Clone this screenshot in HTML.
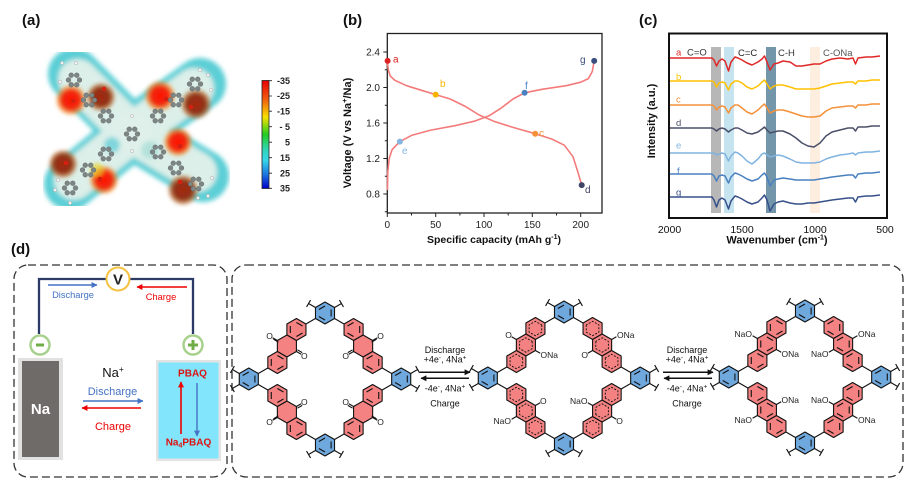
<!DOCTYPE html>
<html><head><meta charset="utf-8"><style>
html,body{margin:0;padding:0;background:#fff;}
svg{display:block;}
</style></head><body>
<svg width="906" height="480" viewBox="0 0 906 480" xmlns="http://www.w3.org/2000/svg" xmlns:xlink="http://www.w3.org/1999/xlink" font-family="'Liberation Sans', Arial, sans-serif">
<defs>
  <filter id="bl" x="-20%" y="-20%" width="140%" height="140%"><feGaussianBlur stdDeviation="2.5"/></filter>
  <filter id="bl2" x="-50%" y="-50%" width="200%" height="200%"><feGaussianBlur stdDeviation="1.8"/></filter>
  <linearGradient id="cb" x1="0" y1="0" x2="0" y2="1">
    <stop offset="0" stop-color="#e80000"/>
    <stop offset="0.17" stop-color="#f25a10"/>
    <stop offset="0.34" stop-color="#f7e000"/>
    <stop offset="0.5" stop-color="#22cc22"/>
    <stop offset="0.64" stop-color="#30d6b8"/>
    <stop offset="0.74" stop-color="#36d6ea"/>
    <stop offset="0.88" stop-color="#1a6ee0"/>
    <stop offset="1" stop-color="#0000c8"/>
  </linearGradient>
  <radialGradient id="rs"><stop offset="0" stop-color="#ff1400"/><stop offset="0.55" stop-color="#f02810"/><stop offset="0.8" stop-color="#f07a20" stop-opacity="0.7"/><stop offset="1" stop-color="#f0a030" stop-opacity="0"/></radialGradient>
  <radialGradient id="ds"><stop offset="0" stop-color="#a82a10"/><stop offset="0.55" stop-color="#8e3014"/><stop offset="0.8" stop-color="#b06028" stop-opacity="0.7"/><stop offset="1" stop-color="#c08040" stop-opacity="0"/></radialGradient>
  <g id="ar" fill="#7d8585" stroke="#565c5c" stroke-width="0.4">
    <circle cx="5.5" cy="0" r="2.4"/><circle cx="2.75" cy="4.76" r="2.4"/><circle cx="-2.75" cy="4.76" r="2.4"/>
    <circle cx="-5.5" cy="0" r="2.4"/><circle cx="-2.75" cy="-4.76" r="2.4"/><circle cx="2.75" cy="-4.76" r="2.4"/>
  </g>
  <marker id="mb" viewBox="0 0 10 10" refX="9" refY="5" markerWidth="6" markerHeight="6" orient="auto" markerUnits="userSpaceOnUse"><path d="M0,0L10,5L0,10Z" fill="#4472c4"/></marker>
  <marker id="mr" viewBox="0 0 10 10" refX="9" refY="5" markerWidth="6" markerHeight="6" orient="auto" markerUnits="userSpaceOnUse"><path d="M0,0L10,5L0,10Z" fill="#ee0000"/></marker>
  <marker id="mk" viewBox="0 0 10 10" refX="9" refY="5" markerWidth="7" markerHeight="6" orient="auto" markerUnits="userSpaceOnUse"><path d="M0,0L10,5L0,10Z" fill="#111"/></marker>

  <path id="hx" d="M9.53,-5.5L9.53,5.5L0,11L-9.53,5.5L-9.53,-5.5L0,-11Z"/>
  <path id="kA" d="M6.1,3.5L0,7M-6.1,3.5L-6.1,-3.5M0,-7L6.1,-3.5" fill="none"/>
  <path id="kB" d="M0,7L-6.1,3.5M-6.1,-3.5L0,-7M6.1,-3.5L6.1,3.5" fill="none"/>
  <path id="dh" d="M6.3,-3.6L6.3,3.6L0,7.2L-6.3,3.6L-6.3,-3.6L0,-7.2Z" fill="none" stroke-dasharray="2 1.5" stroke-width="0.9"/>
  <g id="bz"><use xlink:href="#hx" href="#hx" fill="#6fa8dc"/><use xlink:href="#kB" href="#kB"/></g>
  <path id="sT" fill="none" d="M-9.53,-5.5L-16.45,-9.5M-14.45,-12.96L-18.45,-6.04M9.53,-5.5L16.45,-9.5M18.45,-6.04L14.45,-12.96"/>
  <path id="sL" fill="none" d="M-9.53,5.5L-16.45,9.5M-18.45,6.04L-14.45,12.96M-9.53,-5.5L-16.45,-9.5M-14.45,-12.96L-18.45,-6.04"/>
  <g id="ub">
    <use xlink:href="#hx" href="#hx" x="-28.58" y="-49.5" fill="#f58282"/>
    <use xlink:href="#hx" href="#hx" x="-38.11" y="-33" fill="#f58282"/>
    <use xlink:href="#hx" href="#hx" x="-47.63" y="-16.5" fill="#f58282"/>
    <path fill="none" d="M-9.53,-60.5L-19.05,-55M-57.16,-11L-66.67,-5.5M-47.64,-38.5L-52.4,-41.25M-28.58,-27.5L-23.8,-24.75"/>
  </g>
  <g id="u1">
    <use xlink:href="#ub" href="#ub"/>
    <use xlink:href="#kA" href="#kA" x="-28.58" y="-49.5"/>
    <use xlink:href="#kA" href="#kA" x="-47.63" y="-16.5"/>
    <path fill="none" d="M-46.6,-36.9L-51.6,-39.8M-27.6,-29.2L-22.8,-26.4"/>
  </g>
  <g id="u2">
    <use xlink:href="#ub" href="#ub"/>
    <use xlink:href="#dh" href="#dh" x="-28.58" y="-49.5"/>
    <use xlink:href="#dh" href="#dh" x="-38.11" y="-33"/>
    <use xlink:href="#dh" href="#dh" x="-47.63" y="-16.5"/>
  </g>
  <g id="u3">
    <use xlink:href="#ub" href="#ub"/>
    <use xlink:href="#kA" href="#kA" x="-28.58" y="-49.5"/>
    <use xlink:href="#kA" href="#kA" x="-38.11" y="-33"/>
    <use xlink:href="#kA" href="#kA" x="-47.63" y="-16.5"/>
  </g>
  <g id="cage">
    <use xlink:href="#bz" href="#bz" x="0" y="-66"/>
    <use xlink:href="#bz" href="#bz" x="0" y="66"/>
    <use xlink:href="#bz" href="#bz" x="-76.2" y="0"/>
    <use xlink:href="#bz" href="#bz" x="76.2" y="0"/>
    <use xlink:href="#sT" href="#sT" x="0" y="-66"/>
    <g transform="translate(0,66) scale(1,-1)"><use xlink:href="#sT" href="#sT"/></g>
    <use xlink:href="#sL" href="#sL" x="-76.2" y="0"/>
    <g transform="translate(76.2,0) scale(-1,1)"><use xlink:href="#sL" href="#sL"/></g>
  </g>
</defs>

<rect width="906" height="480" fill="#fff"/>

<!-- ================= (a) ================= -->
<text x="22" y="25" font-size="15" font-weight="bold" fill="#111">(a)</text>
<g filter="url(#bl)">
  <g stroke="#5ccfd6" stroke-width="52" stroke-linecap="round" fill="none">
    <path d="M132,133L74,74M132,133L200,84M132,133L70,184M132,133L203,176"/>
  </g>
  <g stroke="#dcefe9" stroke-width="40" stroke-linecap="round" fill="none">
    <path d="M132,133L78,79M132,133L194,88M132,133L74,180M132,133L197,172"/>
  </g>
  <circle cx="132" cy="133" r="22" fill="#dff0ea"/>
  <circle cx="112" cy="145" r="8" fill="#7fd6dc"/>
  <circle cx="150" cy="150" r="9" fill="#b4e2da"/>
</g>
<g filter="url(#bl2)">
  <circle cx="71" cy="100" r="16" fill="url(#rs)"/>
  <circle cx="101" cy="97" r="15" fill="url(#ds)"/>
  <circle cx="160" cy="96" r="16" fill="url(#rs)"/>
  <circle cx="196" cy="104" r="16" fill="url(#ds)"/>
  <circle cx="178" cy="142" r="15" fill="url(#rs)"/>
  <circle cx="63" cy="164" r="15" fill="url(#ds)"/>
  <circle cx="104" cy="180" r="15" fill="url(#rs)"/>
  <circle cx="97" cy="170" r="7" fill="#e8d020" opacity="0.6"/>
  <circle cx="183" cy="190" r="16" fill="url(#ds)"/>
</g>
<g>
  <use xlink:href="#ar" href="#ar" x="132" y="134"/>
  <use xlink:href="#ar" href="#ar" x="106" y="116"/>
  <use xlink:href="#ar" href="#ar" x="89" y="100"/>
  <use xlink:href="#ar" href="#ar" x="74" y="80"/>
  <use xlink:href="#ar" href="#ar" x="158" y="116"/>
  <use xlink:href="#ar" href="#ar" x="176" y="100"/>
  <use xlink:href="#ar" href="#ar" x="195" y="84"/>
  <use xlink:href="#ar" href="#ar" x="106" y="154"/>
  <use xlink:href="#ar" href="#ar" x="88" y="170"/>
  <use xlink:href="#ar" href="#ar" x="70" y="188"/>
  <use xlink:href="#ar" href="#ar" x="158" y="152"/>
  <use xlink:href="#ar" href="#ar" x="176" y="168"/>
  <use xlink:href="#ar" href="#ar" x="196" y="184"/>
  <g fill="#f2f2f2" stroke="#999" stroke-width="0.4">
    <circle cx="62" cy="63" r="1.7"/><circle cx="76" cy="63" r="1.7"/><circle cx="60" cy="82" r="1.7"/>
    <circle cx="208" cy="75" r="1.7"/><circle cx="200" cy="70" r="1.7"/><circle cx="211" cy="90" r="1.7"/>
    <circle cx="55" cy="190" r="1.7"/><circle cx="70" cy="203" r="1.7"/><circle cx="58" cy="180" r="1.7"/>
    <circle cx="208" cy="196" r="1.7"/><circle cx="212" cy="178" r="1.7"/><circle cx="198" cy="198" r="1.7"/>
    <circle cx="132" cy="116" r="1.7"/><circle cx="132" cy="151" r="1.7"/>
  </g>
  <g fill="#d42010"><circle cx="73" cy="101" r="2.3"/><circle cx="104" cy="89" r="2.3"/><circle cx="191" cy="107" r="2.3"/><circle cx="166" cy="99" r="2.3"/><circle cx="66" cy="163" r="2.3"/><circle cx="100" cy="179" r="2.3"/><circle cx="180" cy="146" r="2.3"/><circle cx="180" cy="182" r="2.3"/></g>
</g>
<!-- colorbar -->
<rect x="262" y="80.5" width="7" height="108" fill="url(#cb)" stroke="#222" stroke-width="0.8"/>
<g stroke="#222" stroke-width="0.8">
  <path d="M269,80.7h3M269,96h3M269,111.2h3M269,126.7h3M269,142.2h3M269,157.7h3M269,173.2h3M269,188.3h3"/>
</g>
<g font-size="9" fill="#222" text-anchor="end" font-weight="bold">
  <text x="290" y="84">-35</text><text x="290" y="99">-25</text><text x="290" y="114.5">-15</text>
  <text x="290" y="130">- 5</text><text x="290" y="145.5">5</text><text x="290" y="161">15</text>
  <text x="290" y="176.5">25</text><text x="290" y="191.5">35</text>
</g>

<!-- ================= (b) ================= -->
<text x="343" y="25" font-size="15" font-weight="bold" fill="#111">(b)</text>
<rect x="387.3" y="33.5" width="214.7" height="179.5" fill="none" stroke="#222" stroke-width="1.3"/>
<g stroke="#222" stroke-width="1">
  <path d="M387.3,52h-4M387.3,87.5h-4M387.3,123h-4M387.3,158.5h-4M387.3,194h-4M387.3,69.8h-2.5M387.3,105.3h-2.5M387.3,140.8h-2.5M387.3,176.3h-2.5M387.3,211.8h-2.5"/>
  <path d="M387.3,213v4M435.7,213v4M484,213v4M532.3,213v4M580.7,213v4M411.5,213v2.5M459.9,213v2.5M508.2,213v2.5M556.5,213v2.5"/>
</g>
<g font-size="10" fill="#222" text-anchor="end">
  <text x="380" y="55.5">2.4</text><text x="380" y="91">2.0</text><text x="380" y="126.5">1.6</text>
  <text x="380" y="162">1.2</text><text x="380" y="197.5">0.8</text>
</g>
<g font-size="10" fill="#222" text-anchor="middle">
  <text x="387.3" y="228">0</text><text x="435.7" y="228">50</text><text x="484" y="228">100</text>
  <text x="532.3" y="228">150</text><text x="580.7" y="228">200</text>
</g>
<text x="494" y="243" font-size="10.5" font-weight="bold" fill="#111" text-anchor="middle">Specific capacity (mAh g<tspan font-size="7" dy="-4">-1</tspan><tspan dy="4">)</tspan></text>
<text transform="translate(351,133) rotate(-90)" font-size="11" font-weight="bold" fill="#111" text-anchor="middle">Voltage (V vs Na<tspan font-size="7.5" dy="-4">+</tspan><tspan dy="4">/Na)</tspan></text>
<g fill="none" stroke="#f47b7b" stroke-width="1.6" stroke-linejoin="round">
  <polyline points="387.3,60.9 388.3,69.8 390.2,76 395,80.4 406.6,85.7 421.1,90.2 435.7,94.6 450.2,99 464.7,106.1 479.2,115 493.7,121.2 513,127.4 535.2,133.7 551.7,139 564.3,145.2 573,156.7 577.8,171.8 581.7,185.1"/>
  <polyline points="387.4,190 387.5,186.9 387.8,171.8 389.2,158.5 392.1,149.6 399.9,141.6 411.5,135.4 430.8,130.1 455,125.7 474.3,121.2 488.8,115.9 501.4,107.9 513,99 524.6,92.8 542,89.3 566.2,85.7 580.7,82.2 588.4,78.6 592.3,71.5 594.2,60.9"/>
</g>
<circle cx="387.6" cy="60.9" r="3" fill="#dd2222"/>
<circle cx="435.7" cy="94.6" r="3" fill="#f6b400"/>
<circle cx="535.2" cy="133.7" r="3" fill="#f39038"/>
<circle cx="581.7" cy="185.1" r="3" fill="#3e4566"/>
<circle cx="399.9" cy="141.6" r="3" fill="#84b6e0"/>
<circle cx="524.6" cy="92.8" r="3" fill="#4b82c2"/>
<circle cx="594.2" cy="60.9" r="3" fill="#3b4f7e"/>
<g font-size="10">
  <text x="393" y="62.5" fill="#dd2222">a</text>
  <text x="440" y="87" fill="#f6b400">b</text>
  <text x="539" y="136.5" fill="#f39038">c</text>
  <text x="585" y="193" fill="#3e4566">d</text>
  <text x="402" y="154" fill="#84b6e0">e</text>
  <text x="525" y="89" fill="#4b82c2">f</text>
  <text x="580" y="63" fill="#3b4f7e">g</text>
</g>

<!-- ================= (c) ================= -->
<text x="639" y="25" font-size="15" font-weight="bold" fill="#111">(c)</text>
<rect x="711" y="47" width="10" height="166" fill="#b7b7b7"/>
<rect x="724" y="47" width="10" height="166" fill="#c6e4ef"/>
<rect x="766" y="47" width="10" height="166" fill="#7496ab"/>
<rect x="810" y="47" width="10" height="166" fill="#fdeedf"/>
<g fill="none" stroke-width="1.5" stroke-linejoin="round">
  <polyline stroke="#e02828" points="669,58 712,58 714,60 716.5,66 719,61 722,59 725,61 728.5,71 731,62 735,57 738,58 742,60 747,63 752,65 758,62 762,59 764.5,56 767,62 770,70 774,64 778,63 783,61 790,62 796,66 802,66 808,65 814,64 820,64 826,61 832,59 840,58 848,59 853,58 855.5,64 858,58 866,57 872,57 880,56"/>
  <polyline stroke="#ffc000" points="669,81 712,81 714,82 716.5,87 719,83 722,82 725,83 728.5,90 731,84 735,81 738,81 742,83 747,87 752,89 758,86 762,82 764.5,80 767,84 770,89 774,86 778,85 783,85 790,87 796,89 802,89 808,89 814,89 820,88 826,86 832,84 840,83 848,82 853,82 855.5,84 858,81 866,81 872,80 880,80"/>
  <polyline stroke="#f4913a" points="669,105 712,105 714,106 716.5,110 719,107 722,106 725,107 728.5,113 731,108 735,105 738,105 742,108 747,112 752,114 758,110 762,106 764.5,104 767,108 770,113 774,111 778,110 783,110 790,112 796,114 802,116 808,117 814,117 820,116 826,111 832,108 840,107 848,106 853,106 855.5,108 858,105 866,105 872,104 880,104"/>
  <polyline stroke="#4a5068" points="669,128 712,128 714,129 716.5,131 719,129 722,128 725,129 728.5,132 731,130 735,128 738,128 742,130 747,133 752,134 758,132 762,129 764.5,127 767,130 770,133 774,132 778,131 783,131 790,134 796,138 802,143 808,146 814,147 820,143 826,136 832,132 840,130 848,128 853,128 855.5,131 858,127 866,127 872,126 880,126"/>
  <polyline stroke="#80b4e0" points="669,153 712,153 714,153 716.5,155 719,154 722,153 725,154 728.5,161 731,156 735,152 738,153 742,156 747,161 752,164 758,159 762,154 764.5,153 767,155 770,157 774,156 778,155 783,156 790,159 796,162 802,163 808,163 814,163 820,162 826,159 832,157 840,155 848,154 853,153 855.5,155 858,153 866,152 872,152 880,151"/>
  <polyline stroke="#4a80c0" points="669,174 712,174 714,176 716.5,181 719,176 722,175 725,176 728.5,183 731,177 735,173 738,174 742,176 747,179 752,181 758,179 762,175 764.5,173 767,177 770,186 774,180 778,179 783,178 790,179 796,180 802,180 808,180 814,180 820,179 826,178 832,177 840,176 848,175 853,175 855.5,178 858,174 866,173 872,173 880,172"/>
  <polyline stroke="#37508a" points="669,197 712,197 714,200 716.5,207 719,200 722,198 725,200 728.5,209 731,201 735,196 738,197 742,199 747,202 752,204 758,202 762,198 764.5,195 767,200 770,211 774,204 778,202 783,201 790,203 796,204 802,204 808,203 814,203 820,202 826,201 832,200 840,199 848,198 853,198 855.5,202 858,197 866,196 872,196 880,195"/>
</g>
<rect x="669" y="33.5" width="218" height="184.5" fill="none" stroke="#111" stroke-width="2"/>
<g font-size="9.5">
  <text x="676" y="55.5" fill="#e02828">a</text>
  <text x="687" y="55.5" fill="#333">C=O</text>
  <text x="738" y="56" fill="#222">C=C</text>
  <text x="778" y="56" fill="#333">C-H</text>
  <text x="823" y="56" fill="#555">C-ONa</text>
  <text x="676" y="80" fill="#ffc000">b</text>
  <text x="676" y="102.5" fill="#f4913a">c</text>
  <text x="676" y="126" fill="#4a5068">d</text>
  <text x="676" y="148.5" fill="#80b4e0">e</text>
  <text x="677" y="174" fill="#4a80c0">f</text>
  <text x="676" y="195.5" fill="#37508a">g</text>
</g>
<g font-size="10.5" fill="#111" text-anchor="middle">
  <text x="669.5" y="233">2000</text><text x="742" y="233">1500</text><text x="815" y="233">1000</text><text x="885" y="233">500</text>
</g>
<text x="777" y="243.5" font-size="11" font-weight="bold" fill="#111" text-anchor="middle">Wavenumber (cm<tspan font-size="7" dy="-4">-1</tspan><tspan dy="4">)</tspan></text>
<text transform="translate(655,121) rotate(-90)" font-size="11" font-weight="bold" fill="#111" text-anchor="middle">Intensity (a.u.)</text>

<!-- ================= (d) ================= -->
<text x="11" y="254" font-size="15" font-weight="bold" fill="#111">(d)</text>
<rect x="14" y="265" width="213" height="212" rx="14" fill="none" stroke="#333" stroke-width="1.3" stroke-dasharray="8 4"/>
<rect x="232" y="265" width="671" height="212" rx="14" fill="none" stroke="#333" stroke-width="1.3" stroke-dasharray="8 4"/>

<!-- circuit -->
<polyline points="39,334 39,279 106.5,279" fill="none" stroke="#2b3a67" stroke-width="2.3"/>
<polyline points="129.5,279 193,279 193,334" fill="none" stroke="#2b3a67" stroke-width="2.3"/>
<circle cx="118" cy="279" r="11.5" fill="#fff" stroke="#f5c242" stroke-width="2"/>
<text x="118" y="284.5" font-size="15" font-weight="bold" fill="#222" text-anchor="middle">V</text>
<line x1="48" y1="285" x2="97" y2="285" stroke="#4472c4" stroke-width="1.5" marker-end="url(#mb)"/>
<text x="73" y="298" font-size="9.3" fill="#4472c4" text-anchor="middle">Discharge</text>
<line x1="187" y1="287" x2="137" y2="287" stroke="#ee0000" stroke-width="1.5" marker-end="url(#mr)"/>
<text x="161" y="300" font-size="9.3" fill="#ee0000" text-anchor="middle">Charge</text>
<circle cx="40" cy="345" r="9.5" fill="#fff" stroke="#a9d18e" stroke-width="2.5"/>
<rect x="36" y="343.5" width="8" height="3" fill="#70ad47"/>
<circle cx="193" cy="345" r="9.5" fill="#fff" stroke="#a9d18e" stroke-width="2.5"/>
<rect x="188" y="343.5" width="10" height="3" fill="#70ad47"/>
<rect x="191.5" y="340" width="3" height="10" fill="#70ad47"/>
<!-- electrodes -->
<rect x="18" y="358" width="45" height="102" fill="#e1e1e1"/>
<rect x="22" y="361" width="37" height="96" fill="#6f6b69"/>
<text x="40.5" y="414" font-size="15" font-weight="bold" fill="#fff" text-anchor="middle">Na</text>
<rect x="156" y="360" width="65" height="101" fill="#e3e3e3"/>
<rect x="158.5" y="362.5" width="60" height="96" fill="#82e5fb"/>
<text x="192.5" y="376.5" font-size="10" font-weight="bold" fill="#dd1111" text-anchor="middle">PBAQ</text>
<text x="188.5" y="445.5" font-size="10" font-weight="bold" fill="#dd1111" text-anchor="middle">Na<tspan font-size="7" dy="2">4</tspan><tspan dy="-2">PBAQ</tspan></text>
<line x1="181" y1="434" x2="181" y2="382" stroke="#ee0000" stroke-width="1.6" marker-end="url(#mr)"/>
<line x1="197" y1="383" x2="197" y2="436" stroke="#4472c4" stroke-width="1.4" marker-end="url(#mb)"/>
<text x="113" y="377" font-size="13" fill="#111" text-anchor="middle">Na<tspan font-size="8.5" dy="-5">+</tspan></text>
<text x="112.5" y="395" font-size="11" fill="#4472c4" text-anchor="middle">Discharge</text>
<line x1="83" y1="401" x2="143" y2="401" stroke="#4472c4" stroke-width="1.5" marker-end="url(#mb)"/>
<line x1="141" y1="408" x2="82" y2="408" stroke="#ee0000" stroke-width="1.5" marker-end="url(#mr)"/>
<text x="113" y="430" font-size="11" fill="#ee0000" text-anchor="middle">Charge</text>

<!-- molecules -->
<g stroke="#111" stroke-width="1.1" stroke-linejoin="round">
  <g transform="translate(325,379)">
    <use xlink:href="#u1" href="#u1"/>
    <g transform="scale(-1,1)"><use xlink:href="#u1" href="#u1"/></g>
    <g transform="scale(1,-1)"><use xlink:href="#u1" href="#u1"/></g>
    <g transform="scale(-1,-1)"><use xlink:href="#u1" href="#u1"/></g>
    <use xlink:href="#cage" href="#cage"/>
  </g>
  <g transform="translate(564,378)">
    <use xlink:href="#u2" href="#u2"/>
    <g transform="scale(-1,1)"><use xlink:href="#u2" href="#u2"/></g>
    <g transform="scale(1,-1)"><use xlink:href="#u2" href="#u2"/></g>
    <g transform="scale(-1,-1)"><use xlink:href="#u2" href="#u2"/></g>
    <use xlink:href="#cage" href="#cage"/>
  </g>
  <g transform="translate(805,377)">
    <use xlink:href="#u3" href="#u3"/>
    <g transform="scale(-1,1)"><use xlink:href="#u3" href="#u3"/></g>
    <g transform="scale(1,-1)"><use xlink:href="#u3" href="#u3"/></g>
    <g transform="scale(-1,-1)"><use xlink:href="#u3" href="#u3"/></g>
    <use xlink:href="#cage" href="#cage"/>
  </g>
</g>
<!-- molecule labels -->
<g font-size="8.5" fill="#222">
  <g text-anchor="middle">
    <text x="269.5" y="339">O</text><text x="304.3" y="359">O</text>
    <text x="380.5" y="339">O</text><text x="345.7" y="359">O</text>
    <text x="269.5" y="425">O</text><text x="304.3" y="405">O</text>
    <text x="380.5" y="425">O</text><text x="345.7" y="405">O</text>
    <text x="508.5" y="338">O</text><text x="584.7" y="358">O</text>
    <text x="543.3" y="404">O</text><text x="619.5" y="424">O</text>
  </g>
  <text x="540.5" y="358">ONa</text>
  <text x="617" y="338">ONa</text>
  <text x="511" y="424" text-anchor="end">NaO</text>
  <text x="587.5" y="404" text-anchor="end">NaO</text>
  <text x="752" y="337" text-anchor="end">NaO</text>
  <text x="781.5" y="357">ONa</text>
  <text x="858" y="337">ONa</text>
  <text x="828.5" y="357" text-anchor="end">NaO</text>
  <text x="781.5" y="403">ONa</text>
  <text x="752" y="423" text-anchor="end">NaO</text>
  <text x="828.5" y="403" text-anchor="end">NaO</text>
  <text x="858" y="423">ONa</text>
</g>

<!-- reaction arrows -->
<g font-size="9" fill="#111" text-anchor="middle">
  <text x="445" y="353">Discharge</text>
  <text x="445" y="362.5">+4e<tspan font-size="6.5" dy="-3">-</tspan><tspan dy="3">, 4Na</tspan><tspan font-size="6.5" dy="-3">+</tspan></text>
  <text x="445" y="391.5">-4e<tspan font-size="6.5" dy="-3">-</tspan><tspan dy="3">, 4Na</tspan><tspan font-size="6.5" dy="-3">+</tspan></text>
  <text x="445" y="406.5">Charge</text>
  <text x="687" y="353">Discharge</text>
  <text x="687" y="362.5">+4e<tspan font-size="6.5" dy="-3">-</tspan><tspan dy="3">, 4Na</tspan><tspan font-size="6.5" dy="-3">+</tspan></text>
  <text x="687" y="391.5">-4e<tspan font-size="6.5" dy="-3">-</tspan><tspan dy="3">, 4Na</tspan><tspan font-size="6.5" dy="-3">+</tspan></text>
  <text x="687" y="406.5">Charge</text>
</g>
<g stroke="#111" stroke-width="1.5">
  <line x1="420" y1="372.3" x2="470" y2="372.3" marker-end="url(#mk)"/>
  <line x1="469" y1="378.3" x2="421" y2="378.3" marker-end="url(#mk)"/>
  <line x1="663" y1="372.3" x2="713" y2="372.3" marker-end="url(#mk)"/>
  <line x1="712" y1="378.3" x2="664" y2="378.3" marker-end="url(#mk)"/>
</g>
</svg>
</body></html>
